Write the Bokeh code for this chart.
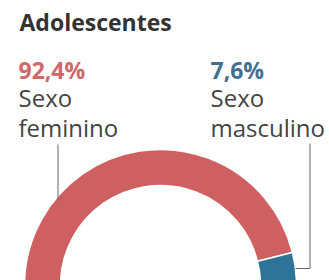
import math
from bokeh.plotting import figure
from bokeh.models import Range1d, ColumnDataSource
from bokeh.core.properties import value
from bokeh.embed import file_html
from bokeh.resources import INLINE

# data
title = "Adolescentes"
categories = ["Sexo feminino", "Sexo masculino"]
shares = [92.4, 7.6]
pct_labels = ["92,4%", "7,6%"]
colors = ["#cf6061", "#2f7396"]
text_colors = ["#d0676b", "#3f7092"]

W, H = 329, 280
p = figure(width=W, height=H, output_backend="svg", toolbar_location=None,
           x_range=Range1d(0, W), y_range=Range1d(0, H),
           min_border=0)
p.axis.visible = False
p.grid.visible = False
p.outline_line_color = None
p.background_fill_color = "white"
p.border_fill_color = "white"

def Y(ry):
    return 280 - ry

# donut
cx, cy = 160, Y(285)
start = math.radians(14)
total = sum(shares)
starts, ends = [], []
a = start
for s in shares:
    b = a + 2 * math.pi * s / total
    starts.append(a)
    ends.append(b)
    a = b
src = ColumnDataSource(dict(x=[cx, cx], y=[cy, cy], start=starts, end=ends, color=colors))
p.annular_wedge(x="x", y="y", inner_radius=100, outer_radius=136,
                start_angle="start", end_angle="end", fill_color="color",
                line_color="white", line_width=1.5, source=src)

# leader lines
p.line([57.5, 57.5], [Y(144), Y(200)], line_color="#666666", line_width=1)
p.line([309.5, 309.5, 295], [Y(143), Y(268), Y(268)], line_color="#666666", line_width=1)

dy = 9
# title
p.text([19], [Y(30 - dy)], text=[title], text_font=value("Open Sans"), text_font_size="23px",
       text_font_style="bold", text_color="#333333", text_baseline="alphabetic")

# labels
lx = [18, 210]
for i in range(2):
    p.text([lx[i]], [Y(78 - dy)], text=[pct_labels[i]], text_font=value("Open Sans"),
           text_font_size="23px", text_font_style="bold", text_color=text_colors[i],
           text_baseline="alphabetic")
    w1, w2 = categories[i].split(" ")
    p.text([lx[i]], [Y(106 - dy)], text=[w1], text_font=value("Open Sans"),
           text_font_size="24px", text_color="#444444", text_baseline="alphabetic")
    p.text([lx[i]], [Y(136 - dy)], text=[w2], text_font=value("Open Sans"),
           text_font_size="24px", text_color="#444444", text_baseline="alphabetic")

open("out.html", "w").write(file_html(p, INLINE))
